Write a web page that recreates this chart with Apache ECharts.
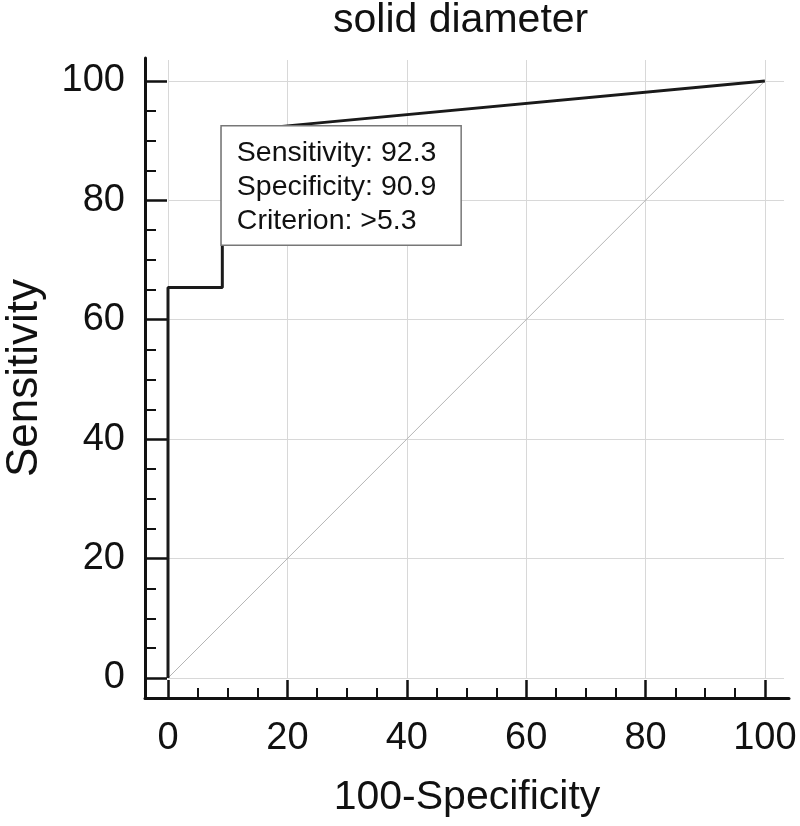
<!DOCTYPE html>
<html>
<head>
<meta charset="utf-8">
<script src="https://cdn.jsdelivr.net/npm/echarts@6/dist/echarts.min.js"></script>
<style>
html,body{margin:0;padding:0;background:#fff;}
#chart{width:800px;height:826px;}
</style>
</head>
<body>
<div id="chart"></div>
<script>
// ---- data ----
const titleText = 'solid diameter';
const xName = '100-Specificity';
const yName = 'Sensitivity';
const rocX = [0, 0, 9.1, 9.1, 18.2, 100];
const rocY = [0, 65.4, 65.4, 92.3, 92.3, 100];
const diagX = [0, 100];
const diagY = [0, 100];
const majorTicks = [0, 20, 40, 60, 80, 100];
const minorTicks = [5, 10, 15, 25, 30, 35, 45, 50, 55, 65, 70, 75, 85, 90, 95];
const cutSens = 92.3;
const cutSpec = 90.9;
const cutCrit = '>5.3';
const cutPoint = [9.1, 92.3];

const FONT = '"Liberation Sans", Arial, sans-serif';
const chart = echarts.init(document.getElementById('chart'), null, {renderer: 'canvas'});

const option = {
  backgroundColor: '#fff',
  animation: false,
  title: {
    text: titleText, left: 333, top: 0, padding: 0,
    textStyle: {fontSize: 41, fontWeight: 'normal', color: '#111', fontFamily: FONT}
  },
  grid: [
    {left: 168, right: 16, top: 60, bottom: 148, containLabel: false, outerBoundsMode: 'none'},
    {left: 145, right: 11, top: 58, bottom: 128, containLabel: false, outerBoundsMode: 'none'}
  ],
  xAxis: [
    {
      type: 'value', gridIndex: 0, position: 'bottom', min: 0, max: 103.2, offset: 20,
      axisLine: {show: false, onZero: false},
      axisTick: {show: true, inside: true, length: 18, customValues: majorTicks, lineStyle: {color: '#111', width: 2.5}},
      axisLabel: {show: true, customValues: majorTicks, fontSize: 38, color: '#111', fontFamily: FONT, margin: 22},
      splitLine: {show: true, lineStyle: {color: '#d8d8d8', width: 1}}
    },
    {
      type: 'value', gridIndex: 0, position: 'bottom', min: 0, max: 103.2, offset: 20,
      axisLine: {show: false, onZero: false},
      axisTick: {show: true, inside: true, length: 10, customValues: minorTicks, lineStyle: {color: '#111', width: 2}},
      axisLabel: {show: false}, splitLine: {show: false}
    },
    {
      type: 'value', gridIndex: 1, position: 'bottom', min: 0, max: 1,
      axisLine: {show: true, onZero: false, lineStyle: {color: '#111', width: 3}},
      axisTick: {show: false}, axisLabel: {show: false}, splitLine: {show: false},
      name: xName, nameLocation: 'middle', nameGap: 79,
      nameTextStyle: {fontSize: 41, color: '#111', fontFamily: FONT}
    }
  ],
  yAxis: [
    {
      type: 'value', gridIndex: 0, position: 'left', min: 0, max: 103.5, offset: 22,
      axisLine: {show: false, onZero: false},
      axisTick: {show: true, inside: true, length: 21, customValues: majorTicks, lineStyle: {color: '#111', width: 2.5}},
      axisLabel: {show: true, customValues: majorTicks, fontSize: 38, color: '#111', fontFamily: FONT, margin: 21},
      splitLine: {show: true, lineStyle: {color: '#d8d8d8', width: 1}}
    },
    {
      type: 'value', gridIndex: 0, position: 'left', min: 0, max: 103.5, offset: 22,
      axisLine: {show: false, onZero: false},
      axisTick: {show: true, inside: true, length: 10, customValues: minorTicks, lineStyle: {color: '#111', width: 2}},
      axisLabel: {show: false}, splitLine: {show: false}
    },
    {
      type: 'value', gridIndex: 1, position: 'left', min: 0, max: 1,
      axisLine: {show: true, onZero: false, lineStyle: {color: '#111', width: 3}},
      axisTick: {show: false}, axisLabel: {show: false}, splitLine: {show: false},
      name: yName, nameLocation: 'middle', nameGap: 98, nameRotate: 90,
      nameTextStyle: {fontSize: 44, color: '#111', fontFamily: FONT}
    }
  ],
  series: [
    {
      type: 'line', xAxisIndex: 0, yAxisIndex: 0, symbol: 'none',
      data: diagX.map((x, i) => [x, diagY[i]]),
      lineStyle: {color: '#b5b5b5', width: 1}, z: 2
    },
    {
      type: 'line', xAxisIndex: 0, yAxisIndex: 0, symbol: 'none',
      data: rocX.map((x, i) => [x, rocY[i]]),
      lineStyle: {color: '#1a1a1a', width: 3}, z: 3,
      markPoint: {
        symbol: 'rect', symbolSize: 1, silent: true,
        itemStyle: {color: 'rgba(0,0,0,0)'},
        data: [{
          coord: cutPoint,
          label: {
            show: true, position: [0, 0], align: 'left', verticalAlign: 'top',
            formatter: 'Sensitivity: ' + cutSens + '\nSpecificity: ' + cutSpec + '\nCriterion: ' + cutCrit,
            fontSize: 28.5, lineHeight: 34, color: '#111', fontFamily: FONT,
            backgroundColor: '#fff', borderColor: '#777', borderWidth: 1.5,
            padding: [10, 24, 6, 15]
          }
        }]
      }
    }
  ]
};
chart.setOption(option);
</script>
</body>
</html>
